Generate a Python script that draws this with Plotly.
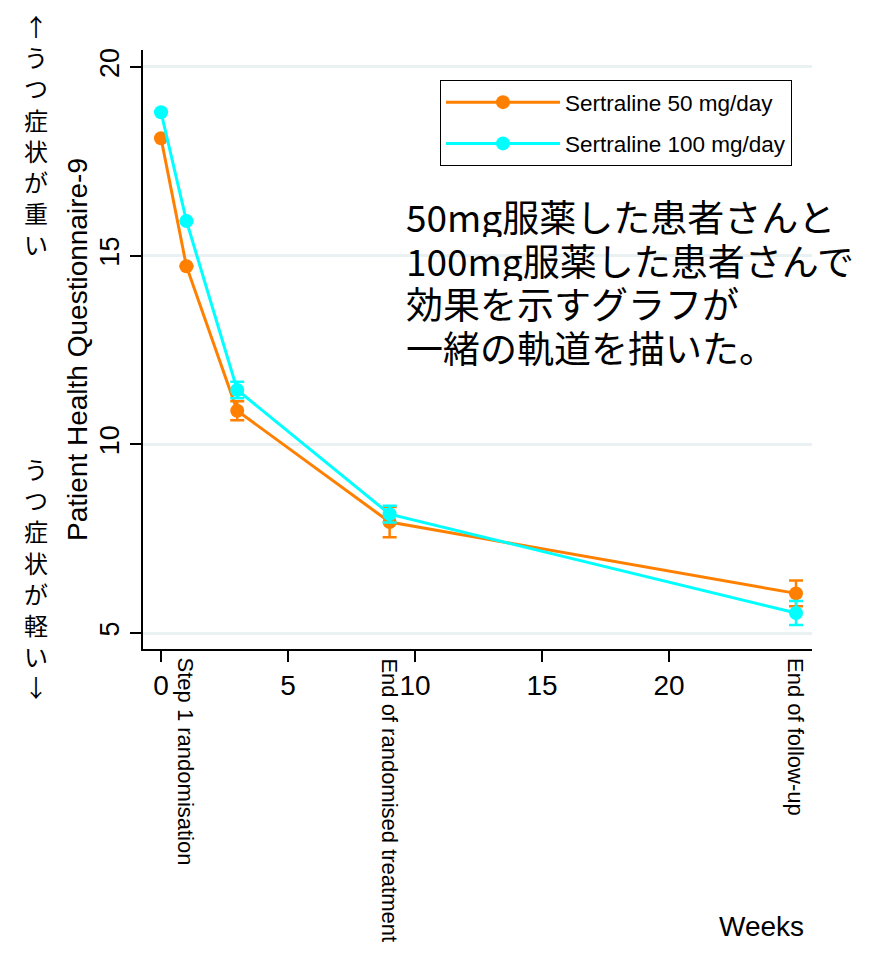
import plotly.graph_objects as go

weeks = [0, 1, 3, 9, 25]
phq_50 = [18.11, 14.72, 10.89, 7.94, 6.05]
err_50 = [0.0, 0.0, 0.25, 0.40, 0.34]
phq_100 = [18.80, 15.92, 11.44, 8.15, 5.53]
err_100 = [0.0, 0.0, 0.22, 0.22, 0.32]

series_names = ["Sertraline 50 mg/day", "Sertraline 100 mg/day"]
series_colors = ["#FF8000", "#00FFFF"]

event_weeks = [1, 9, 25]
event_labels = ["Step 1 randomisation", "End of randomised treatment", "End of follow-up"]

note_lines = ["50mg服薬した患者さんと", "100mg服薬した患者さんで", "効果を示すグラフが", "一緒の軌道を描いた。"]
side_top = "↑うつ症状が重い"
side_bottom = "うつ症状が軽い↓"

y_ticks = [5, 10, 15, 20]
x_ticks = [0, 5, 10, 15, 20]

FONT = "Liberation Sans, Arial, sans-serif"
JP = "Noto Sans CJK JP"

fig = go.Figure()
for i, (vals, errs) in enumerate([(phq_50, err_50), (phq_100, err_100)]):
    fig.add_trace(go.Scatter(
        x=weeks, y=vals, name=series_names[i], mode="lines+markers",
        legendgroup=f"g{i}",
        line=dict(color=series_colors[i], width=3),
        marker=dict(color=series_colors[i], size=14),
        error_y=dict(type="data", array=errs, color=series_colors[i], thickness=2.5, width=7),
    ))

# plot area in page pixels: x 143..812, y 50..649 (page body has an 8px margin)
PW, PH = 669.0, 599.0
def px(pix):
    return (pix - 143) / PW
def py(pix):
    return (649 - pix) / PH

annotations = []
for wk, lab in zip(event_weeks, event_labels):
    annotations.append(dict(x=wk, y=py(656), xref="x", yref="paper", text=lab,
                            textangle=90, xanchor="center", yanchor="top",
                            showarrow=False, font=dict(family=FONT, size=22, color="black")))
annotations.append(dict(x=px(806), y=py(926), xref="paper", yref="paper", text="Weeks",
                        xanchor="right", yanchor="middle", showarrow=False,
                        font=dict(family=FONT, size=28, color="black")))
for k, line in enumerate(note_lines):
    annotations.append(dict(x=px(404), y=py(216 + 43.7 * k), xref="paper", yref="paper",
                            text=line, align="left", xanchor="left", yanchor="middle",
                            height=42, valign="middle", showarrow=False,
                            font=dict(family=JP, size=37, color="black")))
annotations.append(dict(x=px(36), y=py(134), xref="paper", yref="paper",
                        text="<br>".join(list(side_top)),
                        xanchor="center", yanchor="middle", showarrow=False,
                        font=dict(family=JP, size=24, color="black")))
annotations.append(dict(x=px(36), y=py(577), xref="paper", yref="paper",
                        text="<br>".join(list(side_bottom)),
                        xanchor="center", yanchor="middle", showarrow=False,
                        font=dict(family=JP, size=24, color="black")))

fig.update_layout(
    width=889, height=963,
    margin=dict(l=135, r=85, t=42, b=322),
    paper_bgcolor="white", plot_bgcolor="white",
    font=dict(family=FONT, color="black"),
    showlegend=True,
    legend=dict(x=px(440), y=py(80), xanchor="left", yanchor="top",
                bordercolor="black", borderwidth=1, bgcolor="white",
                font=dict(family=FONT, size=22.5, color="black"),
                itemwidth=114, tracegroupgap=9, traceorder="grouped"),
    annotations=annotations,
    xaxis=dict(range=[-0.71, 25.63], tickvals=x_ticks, ticks="outside", ticklen=11,
               tickcolor="black", tickwidth=1.5, showline=True, linecolor="black", linewidth=1.5,
               showgrid=False, zeroline=False, automargin=False,
               tickfont=dict(size=28, family=FONT, color="black")),
    yaxis=dict(range=[4.576, 20.45], tickvals=y_ticks, ticks="outside", ticklen=11,
               tickcolor="black", tickwidth=1.5, showline=True, linecolor="black", linewidth=1.5,
               showgrid=True, gridcolor="#EAF1F2", gridwidth=3, zeroline=False, automargin=False,
               tickangle=-90, tickfont=dict(size=27, family=FONT, color="black"),
               title=dict(text="Patient Health Questionnaire-9", standoff=0,
                          font=dict(size=28, family=FONT, color="black"))),
)

fig.write_html("out.html")
